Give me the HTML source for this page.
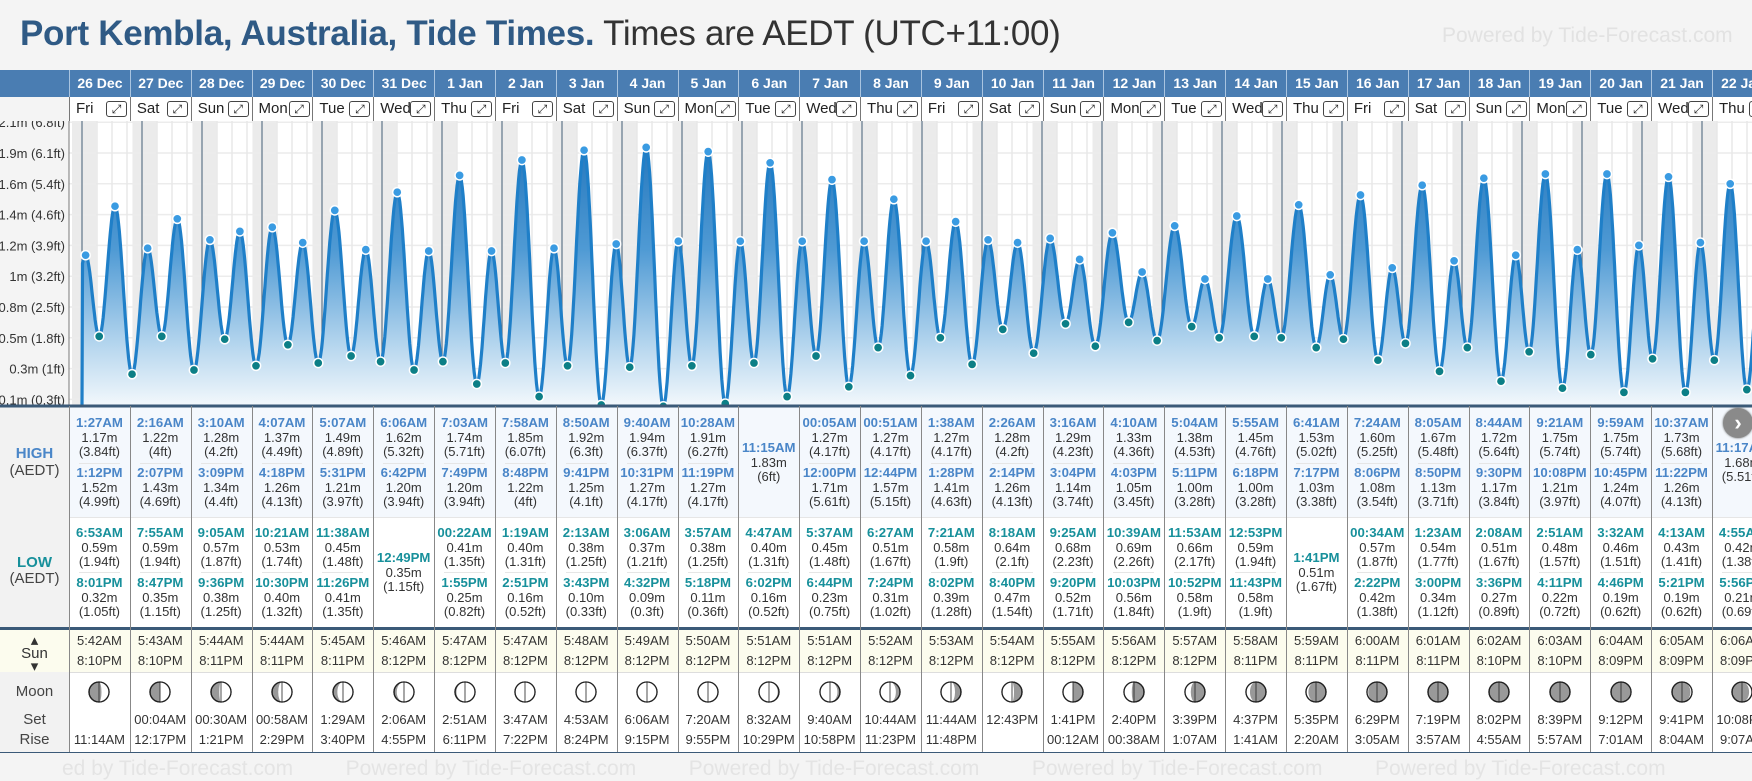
<!DOCTYPE html>
<html><head><meta charset="utf-8">
<style>
body{margin:0;width:1752px;height:780px;overflow:hidden;background:#f4f4f4;font-family:"Liberation Sans",sans-serif;position:relative}
.a{position:absolute}
.t{position:absolute;text-align:center;white-space:nowrap;line-height:16px;height:16px}
.ht{color:#4a86c8;font-weight:bold;font-size:13.2px}
.lt{color:#17909b;font-weight:bold;font-size:13.2px}
.v{color:#333;font-size:13px}
</style></head><body>
<div class="a" style="left:20px;top:14px;font-size:35px;white-space:nowrap;color:#333;letter-spacing:-0.3px"><b style="color:#2f5a85">Port Kembla, Australia, Tide Times.</b> Times are AEDT (UTC+11:00)</div>
<div class="a" style="left:1442px;top:24px;font-size:21px;color:#e2e2e2">Powered by Tide-Forecast.com</div>
<div class="a" style="left:0;top:70px;width:1752px;height:27px;background:#4a7db2"></div>
<div class="a" style="left:69px;top:97px;width:1683px;height:24px;background:#fff;border-bottom:1px solid #777"></div>
<div class="a" style="left:69px;top:121px;width:1683px;height:285px;background:#fff"></div>
<div class="a" style="left:69px;top:406px;width:1683px;height:111px;background:#f4f8fd"></div>
<div class="a" style="left:69px;top:517px;width:1683px;height:110px;background:#fff;border-top:1px solid #e6e6e6"></div>
<div class="a" style="left:0;top:627px;width:1752px;height:45px;background:#fcfcee;border-top:3px solid #3b5a78;box-sizing:border-box"></div>
<div class="a" style="left:69px;top:672px;width:1683px;height:80px;background:#fff;border-top:1px solid #ddd"></div>
<div class="a" style="left:0;top:406px;width:69px;height:221px;background:#f2f2f2;border-right:1px solid #888"></div>
<div class="a" style="left:0;top:672px;width:69px;height:80px;background:#f2f2f2;border-right:1px solid #888"></div>
<div class="a" style="left:0;top:752px;width:1752px;height:28px;border-top:1px solid #3b5a78"></div>
<div class="a" style="left:62px;top:757px;font-size:21px;color:#e4e4e4;white-space:nowrap;width:1690px;overflow:hidden">ed by Tide-Forecast.com &nbsp;&nbsp;&nbsp;&nbsp;&nbsp;&nbsp;&nbsp; Powered by Tide-Forecast.com &nbsp;&nbsp;&nbsp;&nbsp;&nbsp;&nbsp;&nbsp; Powered by Tide-Forecast.com &nbsp;&nbsp;&nbsp;&nbsp;&nbsp;&nbsp;&nbsp; Powered by Tide-Forecast.com &nbsp;&nbsp;&nbsp;&nbsp;&nbsp;&nbsp;&nbsp; Powered by Tide-Forecast.com</div>
<div class="t" style="left:0;width:69px;top:446px;font-weight:bold;font-size:15px;color:#4a86c8">HIGH</div>
<div class="t" style="left:0;width:69px;top:463px;font-size:15px;color:#444">(AEDT)</div>
<div class="t" style="left:0;width:69px;top:555px;font-weight:bold;font-size:15px;color:#17909b">LOW</div>
<div class="t" style="left:0;width:69px;top:571px;font-size:15px;color:#444">(AEDT)</div>
<div class="t" style="left:0;width:69px;top:634px;font-size:15px;color:#333;line-height:13px;height:40px">▴<br>Sun<br>▾</div>
<div class="t" style="left:0;width:69px;top:684px;font-size:15px;color:#444">Moon</div>
<div class="t" style="left:0;width:69px;top:712px;font-size:15px;color:#444">Set</div>
<div class="t" style="left:0;width:69px;top:732px;font-size:15px;color:#444">Rise</div>
<svg id="ch" class="a" style="left:0;top:0" width="1752" height="780">
<defs>
<clipPath id="cp"><rect x="69" y="121" width="1683" height="285"/></clipPath>
<clipPath id="cl"><rect x="0" y="121" width="69" height="285"/></clipPath>
<linearGradient id="gf" gradientUnits="userSpaceOnUse" x1="0" y1="121" x2="0" y2="406">
<stop offset="0" stop-color="#1c70b8"/><stop offset="0.45" stop-color="#4f9ad4"/><stop offset="0.8" stop-color="#b9d8ef"/><stop offset="1" stop-color="#f3f8fc"/></linearGradient>
</defs>
<g id="gBands" clip-path="url(#cp)"></g>
<g id="gGrid" clip-path="url(#cp)"></g>
<g id="gArea" clip-path="url(#cp)"></g>
<g id="gDots" clip-path="url(#cp)"></g>
<g id="gY" clip-path="url(#cl)"></g>
<line x1="69" y1="121" x2="69" y2="406" stroke="#777" stroke-width="1"/>
<line x1="0" y1="406" x2="1752" y2="406" stroke="#3b5a78" stroke-width="3"/>
</svg>
<div id="cols"></div>
<script>
const days=['26 Dec','27 Dec','28 Dec','29 Dec','30 Dec','31 Dec','1 Jan','2 Jan','3 Jan','4 Jan','5 Jan','6 Jan','7 Jan','8 Jan','9 Jan','10 Jan','11 Jan','12 Jan','13 Jan','14 Jan','15 Jan','16 Jan','17 Jan','18 Jan','19 Jan','20 Jan','21 Jan','22 Jan'];
const dows=['Fri','Sat','Sun','Mon','Tue','Wed','Thu','Fri','Sat','Sun','Mon','Tue','Wed','Thu','Fri','Sat','Sun','Mon','Tue','Wed','Thu','Fri','Sat','Sun','Mon','Tue','Wed','Thu'];
const highTimes=[['1:27AM','1:12PM'],['2:16AM','2:07PM'],['3:10AM','3:09PM'],['4:07AM','4:18PM'],['5:07AM','5:31PM'],['6:06AM','6:42PM'],['7:03AM','7:49PM'],['7:58AM','8:48PM'],['8:50AM','9:41PM'],['9:40AM','10:31PM'],['10:28AM','11:19PM'],['11:15AM'],['00:05AM','12:00PM'],['00:51AM','12:44PM'],['1:38AM','1:28PM'],['2:26AM','2:14PM'],['3:16AM','3:04PM'],['4:10AM','4:03PM'],['5:04AM','5:11PM'],['5:55AM','6:18PM'],['6:41AM','7:17PM'],['7:24AM','8:06PM'],['8:05AM','8:50PM'],['8:44AM','9:30PM'],['9:21AM','10:08PM'],['9:59AM','10:45PM'],['10:37AM','11:22PM'],['11:17AM']];
const highM=[[1.17,1.52],[1.22,1.43],[1.28,1.34],[1.37,1.26],[1.49,1.21],[1.62,1.20],[1.74,1.20],[1.85,1.22],[1.92,1.25],[1.94,1.27],[1.91,1.27],[1.83],[1.27,1.71],[1.27,1.57],[1.27,1.41],[1.28,1.26],[1.29,1.14],[1.33,1.05],[1.38,1.00],[1.45,1.00],[1.53,1.03],[1.60,1.08],[1.67,1.13],[1.72,1.17],[1.75,1.21],[1.75,1.24],[1.73,1.26],[1.68]];
const highFt=[['3.84','4.99'],['4','4.69'],['4.2','4.4'],['4.49','4.13'],['4.89','3.97'],['5.32','3.94'],['5.71','3.94'],['6.07','4'],['6.3','4.1'],['6.37','4.17'],['6.27','4.17'],['6'],['4.17','5.61'],['4.17','5.15'],['4.17','4.63'],['4.2','4.13'],['4.23','3.74'],['4.36','3.45'],['4.53','3.28'],['4.76','3.28'],['5.02','3.38'],['5.25','3.54'],['5.48','3.71'],['5.64','3.84'],['5.74','3.97'],['5.74','4.07'],['5.68','4.13'],['5.51']];
const lowTimes=[['6:53AM','8:01PM'],['7:55AM','8:47PM'],['9:05AM','9:36PM'],['10:21AM','10:30PM'],['11:38AM','11:26PM'],['12:49PM'],['00:22AM','1:55PM'],['1:19AM','2:51PM'],['2:13AM','3:43PM'],['3:06AM','4:32PM'],['3:57AM','5:18PM'],['4:47AM','6:02PM'],['5:37AM','6:44PM'],['6:27AM','7:24PM'],['7:21AM','8:02PM'],['8:18AM','8:40PM'],['9:25AM','9:20PM'],['10:39AM','10:03PM'],['11:53AM','10:52PM'],['12:53PM','11:43PM'],['1:41PM'],['00:34AM','2:22PM'],['1:23AM','3:00PM'],['2:08AM','3:36PM'],['2:51AM','4:11PM'],['3:32AM','4:46PM'],['4:13AM','5:21PM'],['4:55AM','5:56PM']];
const lowM=[[0.59,0.32],[0.59,0.35],[0.57,0.38],[0.53,0.40],[0.45,0.41],[0.35],[0.41,0.25],[0.40,0.16],[0.38,0.10],[0.37,0.09],[0.38,0.11],[0.40,0.16],[0.45,0.23],[0.51,0.31],[0.58,0.39],[0.64,0.47],[0.68,0.52],[0.69,0.56],[0.66,0.58],[0.59,0.58],[0.51],[0.57,0.42],[0.54,0.34],[0.51,0.27],[0.48,0.22],[0.46,0.19],[0.43,0.19],[0.42,0.21]];
const lowFt=[['1.94','1.05'],['1.94','1.15'],['1.87','1.25'],['1.74','1.32'],['1.48','1.35'],['1.15'],['1.35','0.82'],['1.31','0.52'],['1.25','0.33'],['1.21','0.3'],['1.25','0.36'],['1.31','0.52'],['1.48','0.75'],['1.67','1.02'],['1.9','1.28'],['2.1','1.54'],['2.23','1.71'],['2.26','1.84'],['2.17','1.9'],['1.94','1.9'],['1.67'],['1.87','1.38'],['1.77','1.12'],['1.67','0.89'],['1.57','0.72'],['1.51','0.62'],['1.41','0.62'],['1.38','0.69']];
const sunRise=['5:42AM','5:43AM','5:44AM','5:44AM','5:45AM','5:46AM','5:47AM','5:47AM','5:48AM','5:49AM','5:50AM','5:51AM','5:51AM','5:52AM','5:53AM','5:54AM','5:55AM','5:56AM','5:57AM','5:58AM','5:59AM','6:00AM','6:01AM','6:02AM','6:03AM','6:04AM','6:05AM','6:06AM'];
const sunSet=['8:10PM','8:10PM','8:11PM','8:11PM','8:11PM','8:12PM','8:12PM','8:12PM','8:12PM','8:12PM','8:12PM','8:12PM','8:12PM','8:12PM','8:12PM','8:12PM','8:12PM','8:12PM','8:12PM','8:11PM','8:11PM','8:11PM','8:11PM','8:10PM','8:10PM','8:09PM','8:09PM','8:09PM'];
const moonSet=['','00:04AM','00:30AM','00:58AM','1:29AM','2:06AM','2:51AM','3:47AM','4:53AM','6:06AM','7:20AM','8:32AM','9:40AM','10:44AM','11:44AM','12:43PM','1:41PM','2:40PM','3:39PM','4:37PM','5:35PM','6:29PM','7:19PM','8:02PM','8:39PM','9:12PM','9:41PM','10:08PM'];
const moonRise=['11:14AM','12:17PM','1:21PM','2:29PM','3:40PM','4:55PM','6:11PM','7:22PM','8:24PM','9:15PM','9:55PM','10:29PM','10:58PM','11:23PM','11:48PM','','00:12AM','00:38AM','1:07AM','1:41AM','2:20AM','3:05AM','3:57AM','4:55AM','5:57AM','7:01AM','8:04AM','9:07AM'];
const yTickVals=[0.14,0.36,0.58,0.8,1.02,1.24,1.46,1.68,1.9,2.12];
const yTickLabels=['0.1m (0.3ft)','0.3m (1ft)','0.5m (1.8ft)','0.8m (2.5ft)','1m (3.2ft)','1.2m (3.9ft)','1.4m (4.6ft)','1.6m (5.4ft)','1.9m (6.1ft)','2.1m (6.8ft)'];

const NS='http://www.w3.org/2000/svg';
const X0=82, PXH=2.5, COLX=69, COLW=60.85;
function hrs(s){const m=s.match(/(\d+):(\d+)(AM|PM)/);let h=+m[1]%12;if(m[3]=='PM')h+=12;return h+(+m[2])/60;}
function xOf(t){return X0+t*PXH;}
function yOf(h){return 405-(h-0.1)*140;}
function sv(tag,attrs,parent){const e=document.createElementNS(NS,tag);for(const k in attrs)e.setAttribute(k,attrs[k]);parent.appendChild(e);return e;}

const gB=document.getElementById('gBands'),gG=document.getElementById('gGrid'),gA=document.getElementById('gArea'),gD=document.getElementById('gDots'),gY=document.getElementById('gY');
for(let i=-1;i<days.length;i++){
  const s=i<0?-4:i*24+hrs(sunSet[i]);
  const e=i+1<days.length?(i+1)*24+hrs(sunRise[i+1]):(i+1)*24+6;
  const r=sv('rect',{x:xOf(s),y:121,width:xOf(e)-xOf(s),height:285,fill:'#ebebeb'},gB);
  
  
}
yTickVals.forEach((v,k)=>{
  const l=sv('line',{x1:69,x2:1752,y1:yOf(v),y2:yOf(v),stroke:'#ececec','stroke-width':1.5},gG);
  
  
  const t=sv('text',{x:65,y:yOf(v)+5,'text-anchor':'end','font-size':13,fill:'#333','font-family':'Liberation Sans'},gY);
  t.textContent=yTickLabels[k];
  
  
});
for(let q=-4;q<days.length*4+4;q++){
  const mid=q%4===0;
  const l=sv('line',{x1:xOf(q*6),x2:xOf(q*6),y1:121,y2:406,stroke:mid?'#5f7488':'#e8e8e8','stroke-width':mid?1.2:1.5},gG);
  
  
}
const ev=[];
days.forEach((d,i)=>{
  highTimes[i].forEach((tm,k)=>ev.push({t:i*24+hrs(tm),h:highM[i][k],hi:true}));
  lowTimes[i].forEach((tm,k)=>ev.push({t:i*24+hrs(tm),h:lowM[i][k],hi:false}));
});
ev.sort((a,b)=>a.t-b.t);
const pts=[{t:ev[0].t-6.2,h:0.55},...ev,{t:ev[ev.length-1].t+6.2,h:1.3}];
let dStr='',first=true;
for(let j=0;j<pts.length-1;j++){
  const a=pts[j],b=pts[j+1];
  for(let s=0;s<=1.0001;s+=0.05){
    const t=a.t+(b.t-a.t)*s; if(t<0)continue;
    const h=a.h+(b.h-a.h)*(1-Math.cos(Math.PI*s))/2;
    dStr+=(first?'M':'L')+xOf(t).toFixed(1)+','+yOf(h).toFixed(1)+' ';first=false;
  }
}
const lastX=xOf(pts[pts.length-1].t);
const area=sv('path',{d:dStr+'L'+lastX+',406 L'+xOf(0)+',406 Z',fill:'url(#gf)'},gA);


const line=sv('path',{d:'M'+xOf(0)+',406 L'+dStr.slice(1),fill:'none',stroke:'#1f7fc8','stroke-width':3.2,'stroke-linejoin':'round'},gA);


ev.forEach(e=>{
  const c=sv('circle',{cx:xOf(e.t),cy:yOf(e.h),r:4.6,fill:e.hi?'#3a9be2':'#0c7f86',stroke:'#fff','stroke-width':1.5},gD);
  
  
});

const cols=document.getElementById('cols');
function dv(x,y,w,h,css,txt,parent){const e=document.createElement('div');e.className='a';e.style.cssText=`left:${x}px;top:${y}px;width:${w}px;height:${h}px;`+css;if(txt!==undefined)e.textContent=txt;(parent||cols).appendChild(e);return e;}
function tx(cx,cy,txt,cls){const e=document.createElement('div');e.className='t '+cls;e.style.left=(cx-45)+'px';e.style.width='90px';e.style.top=(cy-8)+'px';e.textContent=txt;cols.appendChild(e);return e;}
function moonSvg(cx,cy,i){
  const age=((i+6.2)%29.53+29.53)%29.53, k=(1-Math.cos(2*Math.PI*age/29.53))/2, r=10;
  const s=document.createElementNS(NS,'svg');s.setAttribute('width',24);s.setAttribute('height',24);s.style.cssText=`position:absolute;left:${cx-12}px;top:${cy-12}px`;
  sv('circle',{cx:12,cy:12,r:r,fill:'#999',stroke:'#222','stroke-width':1.3},s);
  const rx=Math.abs(1-2*k)*r; let d;
  if(age<14.77){d=`M12,2 A10,10 0 0 1 12,22 A${rx},10 0 0 ${k>0.5?1:0} 12,2 Z`;}
  else{d=`M12,2 A10,10 0 0 0 12,22 A${rx},10 0 0 ${k>0.5?0:1} 12,2 Z`;}
  sv('path',{d:d,fill:'#fff',stroke:'none'},s);
  sv('circle',{cx:12,cy:12,r:r,fill:'none',stroke:'#222','stroke-width':1.3},s);
  sv('line',{x1:12,y1:2,x2:12,y2:22,stroke:'#222','stroke-width':0.8},s);
  cols.appendChild(s);return s;
}
days.forEach((d,i)=>{
  const x=COLX+i*COLW, cx=x+COLW/2;
  const h=dv(x,70,COLW,27,'border-left:1px solid #a9c4e0;box-sizing:border-box;color:#fff;font-weight:bold;font-size:14px;text-align:center;line-height:27px;white-space:nowrap',d);
  
  
  const dr=dv(x,97,COLW,24,'border-left:1px solid #777;box-sizing:border-box;font-size:15px;color:#222;line-height:24px;padding-left:6px;white-space:nowrap',dows[i]);
  
  
  const ic=dv(x+37,101,19,14,'border:1.3px solid #444;border-radius:3px;background:#fff;font-size:12px;line-height:14px;text-align:center;color:#222','⤢');
  
  
  const vl=dv(x,406,1,346,'background:#888');
  
  
  const hn=highTimes[i].length;
  highTimes[i].forEach((tm,k)=>{
    const top=hn===1?448:(k===0?423:473);
    const a=tx(cx,top,tm,'ht');
    
    
    const b=tx(cx,top+15,highM[i][k].toFixed(2)+'m','v');
    
    
    const c=tx(cx,top+29,'('+highFt[i][k]+'ft)','v');
    
    
  });
  if(hn===2){const sp=dv(x+10,463,COLW-20,1,'background:#e6e6e6');}
  const ln=lowTimes[i].length;
  lowTimes[i].forEach((tm,k)=>{
    const top=ln===1?558:(k===0?533:583);
    const a=tx(cx,top,tm,'lt');
    
    
    const b=tx(cx,top+15,lowM[i][k].toFixed(2)+'m','v');
    
    
    const c=tx(cx,top+29,'('+lowFt[i][k]+'ft)','v');
    
    
  });
  if(ln===2){const sp=dv(x+10,572,COLW-20,1,'background:#e6e6e6');}
  const sr=tx(cx,641,sunRise[i],'v');
  
  
  const ss=tx(cx,661,sunSet[i],'v');
  
  
  const mi=moonSvg(cx,692,i);
  
  
  const ms=tx(cx,720,moonSet[i],'v');
  
  
  const mr=tx(cx,740,moonRise[i],'v');
  
  
});
const nb=dv(1723,408,30,30,'border-radius:50%;background:#8a8a8a;color:#fff;font-size:22px;font-weight:bold;text-align:center;line-height:29px;box-shadow:0 0 2px #666','›');


</script>
</body></html>
